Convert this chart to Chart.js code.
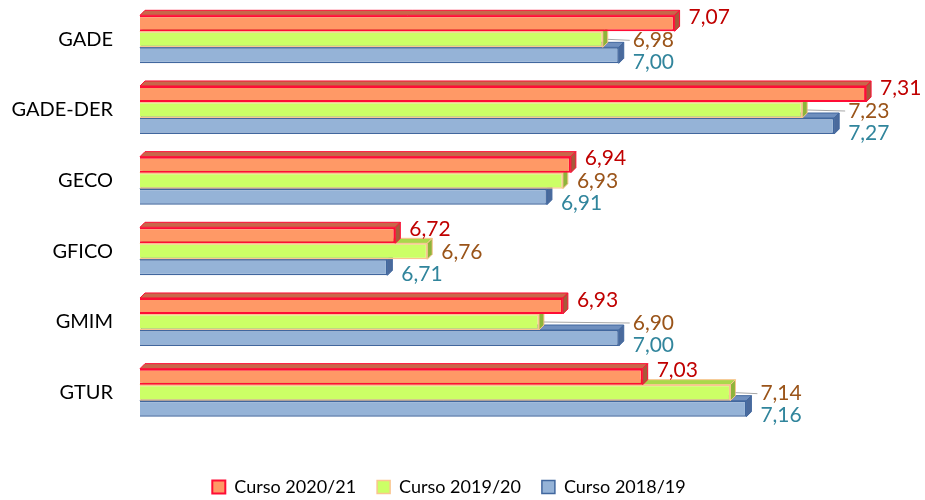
<!doctype html>
<html lang="es">

<head>
  <meta charset="utf-8">
  <title>Nota media por grado</title>
  <script src="https://cdn.jsdelivr.net/npm/chart.js"></script>
  <style>
    html, body { margin: 0; padding: 0; background: #fff; }
    #wrap { width: 925px; height: 500px; }
  </style>
</head>

<body>
  <div id="wrap"><canvas id="notas"></canvas></div>

  <script>
    // datos
    const grados = ['GADE', 'GADE-DER', 'GECO', 'GFICO', 'GMIM', 'GTUR'];
    const cursos = ['Curso 2020/21', 'Curso 2019/20', 'Curso 2018/19'];
    const curso2021 = [7.07, 7.31, 6.94, 6.72, 6.93, 7.03];
    const curso1920 = [6.98, 7.23, 6.93, 6.76, 6.90, 7.14];
    const curso1819 = [7.00, 7.27, 6.91, 6.71, 7.00, 7.16];

    // colores: relleno, borde, cara superior, cara lateral, etiqueta
    const estilos = [
      { fill: '#FF9966', border: '#FF0D35', top: '#C8674A', side: '#A65A3A', label: '#C00000', bw: 2 },
      { fill: '#CCFF66', border: '#FAC590', top: '#A9D84A', side: '#8DB43A', label: '#9A5419', bw: 1.5 },
      { fill: '#95B3D7', border: '#41679E', top: '#6F8FBE', side: '#4A6A9C', label: '#31859C', bw: 1.5 }
    ];
    const depth = 5;
    const labelDy = [-6, 1, 7];

    // caras 3D de cada barra
    const bars3d = {
      id: 'bars3d',
      beforeDatasetDraw(chart, args) {
        const st = estilos[args.index];
        const ctx = chart.ctx;
        const left = chart.chartArea.left;
        args.meta.data.forEach(bar => {
          const { x, y, height } = bar.getProps(['x', 'y', 'height'], true);
          const top = y - height / 2, bottom = y + height / 2;
          ctx.save();
          ctx.lineWidth = 1;
          ctx.strokeStyle = st.border;
          ctx.fillStyle = st.top;
          ctx.beginPath();
          ctx.moveTo(left, top);
          ctx.lineTo(left + depth, top - depth);
          ctx.lineTo(x + depth, top - depth);
          ctx.lineTo(x, top);
          ctx.closePath();
          ctx.fill();
          ctx.stroke();
          ctx.fillStyle = st.side;
          ctx.beginPath();
          ctx.moveTo(x, top);
          ctx.lineTo(x + depth, top - depth);
          ctx.lineTo(x + depth, bottom - depth);
          ctx.lineTo(x, bottom);
          ctx.closePath();
          ctx.fill();
          ctx.stroke();
          ctx.restore();
        });
      }
    };

    // etiquetas de valor al final de cada barra
    const etiquetas = {
      id: 'etiquetas',
      afterDatasetsDraw(chart) {
        const ctx = chart.ctx;
        const metas = chart.data.datasets.map((d, i) => chart.getDatasetMeta(i));
        ctx.save();
        ctx.font = '21px Lato';
        ctx.textBaseline = 'middle';
        ctx.textAlign = 'left';
        chart.data.labels.forEach((lab, k) => {
          const grupo = metas.map(m => m.data[k]);
          grupo.forEach((bar, i) => {
            const value = chart.data.datasets[i].data[k];
            const ly = bar.y + labelDy[i];
            // si la etiqueta pisa otra barra mas larga, se aparta hacia la derecha
            let end = bar.x + depth;
            grupo.forEach(other => {
              const t = other.y - other.height / 2 - depth;
              const b = other.y + other.height / 2;
              if (ly + 7 > t + 2 && ly - 7 < b) end = Math.max(end, other.x + depth);
            });
            const lx = end + 9;
            if (end > bar.x + depth + 1) {
              ctx.strokeStyle = '#A6A6A6';
              ctx.lineWidth = 1;
              ctx.beginPath();
              ctx.moveTo(bar.x + depth, bar.y);
              ctx.lineTo(lx - 3, ly);
              ctx.stroke();
            }
            ctx.fillStyle = estilos[i].label;
            ctx.fillText(value.toFixed(2).replace('.', ','), lx, ly);
          });
        });
        ctx.restore();
      }
    };

    // la leyenda queda mas abajo que el hueco que deja la disposicion
    const bajarLeyenda = {
      id: 'bajarLeyenda',
      afterLayout(chart) {
        chart.legend.top += 29;
        chart.legend.bottom += 29;
      }
    };

    const series = [curso2021, curso1920, curso1819];
    new Chart(document.getElementById('notas'), {
      type: 'bar',
      data: {
        labels: grados,
        datasets: series.map((valores, i) => ({
          label: cursos[i],
          data: valores,
          backgroundColor: estilos[i].fill,
          borderColor: estilos[i].border,
          borderWidth: estilos[i].bw,
          borderSkipped: false,
          categoryPercentage: 0.68,
          barPercentage: 1
        }))
      },
      options: {
        indexAxis: 'y',
        responsive: true,
        maintainAspectRatio: false,
        animation: false,
        layout: {
          padding: { top: 4, right: 27, bottom: 23, left: 0 }
        },
        scales: {
          x: {
            display: false,
            min: 6.4,
            max: 7.35
          },
          y: {
            grid: { display: false, drawTicks: false },
            border: { display: false },
            ticks: {
              color: '#000',
              padding: 27,
              font: { family: 'Lato', size: 20 }
            },
            afterFit(s) {
              s.width = 140;
              s.paddingTop = 0;
              s.paddingBottom = 0;
            }
          }
        },
        plugins: {
          legend: {
            position: 'bottom',
            labels: {
              color: '#000',
              boxWidth: 13,
              boxHeight: 13,
              padding: 21,
              font: { family: 'Lato', size: 18 }
            }
          },
          tooltip: { enabled: false }
        }
      },
      plugins: [bars3d, etiquetas, bajarLeyenda]
    });
  </script>

</body>

</html>
